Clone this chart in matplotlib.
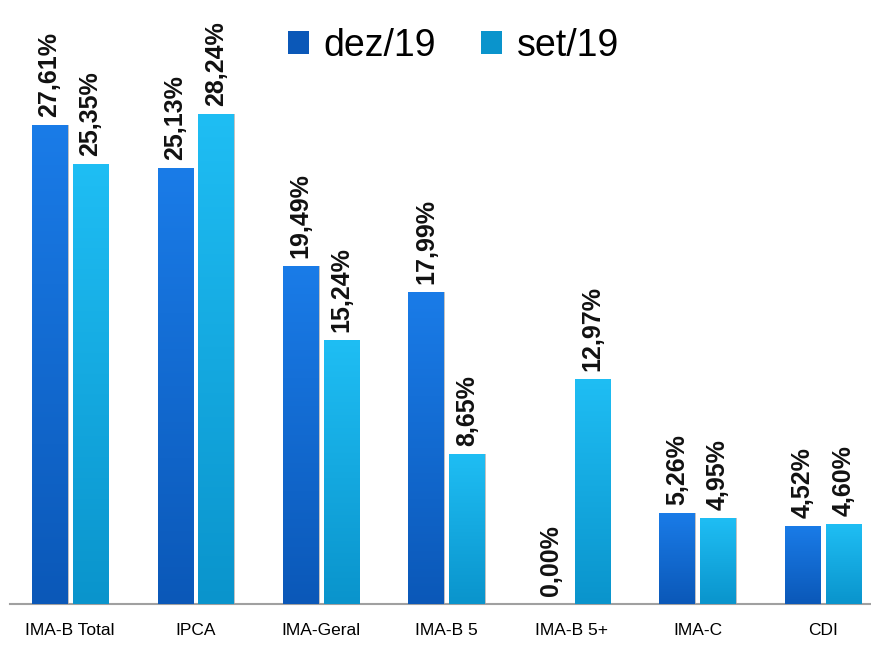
import numpy as np
import matplotlib.pyplot as plt
from matplotlib.colors import LinearSegmentedColormap

categorias = ['IMA-B Total', 'IPCA', 'IMA-Geral', 'IMA-B 5', 'IMA-B 5+', 'IMA-C', 'CDI']
dez19 = [27.61, 25.13, 19.49, 17.99, 0.00, 5.26, 4.52]
set19 = [25.35, 28.24, 15.24, 8.65, 12.97, 4.95, 4.60]
series = [('dez/19', dez19, '#0b58b8', '#1a7ce8'),
          ('set/19', set19, '#0a94cc', '#1fbef4')]

fig = plt.figure(figsize=(8.71, 6.46), dpi=100)
ax = fig.add_axes([10 / 871, 42 / 646, 861 / 871, 604 / 646])
ax.set_xlim(-0.478, 6.383)
ax.set_ylim(0, 34.81)

x = np.arange(len(categorias))
w = 0.279
off = 0.163
grad = np.linspace(0, 1, 256).reshape(-1, 1)

for k, (nome, vals, c_baixo, c_topo) in enumerate(series):
    pos = x + (-off if k == 0 else off)
    cmap = LinearSegmentedColormap.from_list(nome, [c_baixo, c_topo])
    # sombra
    ax.bar(pos + 0.012, vals, w, color='#9a9a9a', alpha=0.6, zorder=1)
    bars = ax.bar(pos, vals, w, color=c_baixo, edgecolor='none', zorder=2,
                  label=nome)
    for b, v in zip(bars, vals):
        x0 = b.get_x()
        if v > 0:
            im = ax.imshow(grad, cmap=cmap, aspect='auto', origin='lower',
                           extent=[x0, x0 + w, 0, v], zorder=3)
            im.set_clip_path(b)
        ax.text(x0 + w / 2, v + 0.45, f'{v:.2f}%'.replace('.', ','),
                rotation=90, ha='center', va='bottom', fontsize=18,
                fontweight='bold', family='Liberation Sans', color='#111111',
                zorder=4)

ax.set_xticks(x)
ax.set_xticklabels(categorias, fontsize=12.5, family='Liberation Sans')
ax.tick_params(axis='x', length=0, pad=14)
ax.set_yticks([])
for s in ['top', 'right', 'left']:
    ax.spines[s].set_visible(False)
ax.spines['bottom'].set_color('#a0a0a0')
ax.spines['bottom'].set_linewidth(1.5)

leg = ax.legend(loc='upper center', bbox_to_anchor=(0.515, 1.01), ncol=2,
                frameon=False, handlelength=0.55, handleheight=0.55,
                handletextpad=0.4, columnspacing=1.2,
                prop={'family': 'Liberation Sans', 'size': 27})

fig.savefig('out.png', dpi=100)
